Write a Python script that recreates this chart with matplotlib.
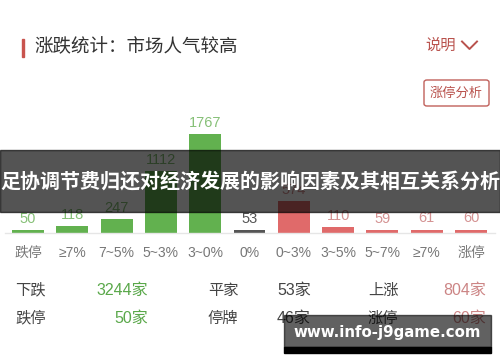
import matplotlib
matplotlib.use("Agg")
import matplotlib.pyplot as plt
from matplotlib.patches import Rectangle, FancyBboxPatch

plt.rcParams['font.family'] = ['Noto Sans CJK SC', 'DejaVu Sans']
NUM_FONT = ['Liberation Sans', 'Noto Sans CJK SC', 'DejaVu Sans']

categories = ["跌停", "≥7%", "7~5%", "5~3%", "3~0%", "0%", "0~3%", "3~5%", "5~7%", "≥7%", "涨停"]
values = [50, 118, 247, 1112, 1767, 53, 574, 110, 59, 61, 60]
kinds = ["down"] * 5 + ["flat"] + ["up"] * 5

title = "涨跌统计：市场人气较高"
banner = "足协调节费归还对经济发展的影响因素及其相互关系分析"
watermark = "www.info-j9game.com"
table_rows = [
    [("下跌", "3244家"), ("平家", "53家"), ("上涨", "804家")],
    [("跌停", "50家"), ("停牌", "46家"), ("涨停", "60家")],
]

bar_col = {"down": "#62b14f", "flat": "#555555", "up": "#e06a6a"}
lab_col = {"down": "#86c077", "flat": "#555555", "up": "#d49292"}
val_col = ["#5aa84a", "#444444", "#cc8585"]

W, H = 500, 362
fig = plt.figure(figsize=(W / 100, H / 100), dpi=100)
fig.patch.set_facecolor("white")

def fx(x):
    return x / W

def fy(y):
    return 1 - y / H

# axes for bars
sp = 44.3
left = 28 - sp / 2
right = 471 + sp / 2
base = 233
ax = fig.add_axes([fx(left), fy(base), (right - left) / W, 112 / H])
ax.set_xlim(-0.5, len(categories) - 0.5)
ax.set_ylim(0, 2000)
ax.axis("off")
xs = list(range(len(categories)))
ax.bar(xs, values, width=0.72, color=[bar_col[k] for k in kinds], zorder=2)
for x, v, k in zip(xs, values, kinds):
    ax.annotate(str(v), (x, v), xytext=(0, 3), textcoords="offset points",
                ha="center", va="bottom", fontsize=10.5, color=lab_col[k],
                family=NUM_FONT)

# baseline
fig.add_artist(plt.Line2D([fx(5), fx(495)], [fy(base), fy(base)], color="#e6e6e6", lw=1))

# x labels
for x, c in zip(xs, categories):
    px = 28 + x * sp
    fig.text(fx(px), fy(253), c, ha="center", va="center", fontsize=10,
             color="#777777", family=NUM_FONT)

# title
fig.add_artist(Rectangle((fx(21.5), fy(57)), 2.5 / W, 18 / H, color="#c9544e", transform=fig.transFigure))
fig.text(fx(34), fy(47), title, ha="left", va="center", fontsize=13.3,
         fontweight="medium", color="#333333")

# top-right controls
fig.text(fx(425), fy(45), "说明", ha="left", va="center", fontsize=11, color="#b9524d")
fig.add_artist(plt.Line2D([fx(462), fx(469.5), fx(477)], [fy(41.5), fy(49), fy(41.5)],
                          color="#b9524d", lw=1.4))
fig.add_artist(FancyBboxPatch((fx(424), fy(106)), 65 / W, 26 / H,
                              boxstyle="round,pad=0,rounding_size=0.006",
                              fc="white", ec="#c0605b", lw=1, transform=fig.transFigure))
fig.text(fx(456.5), fy(93), "涨停分析", ha="center", va="center", fontsize=9.5, color="#b9524d")

# table
row_y = [290, 318]
for r, row in enumerate(table_rows):
    y = fy(row_y[r])
    (l1, v1), (l2, v2), (l3, v3) = row
    fig.text(fx(15), y, l1, ha="left", va="center", fontsize=11, color="#444444")
    fig.text(fx(148), y, v1, ha="right", va="center", fontsize=11.5, color=val_col[0], family=NUM_FONT)
    fig.text(fx(208), y, l2, ha="left", va="center", fontsize=11, color="#444444")
    fig.text(fx(277), y, v2, ha="left", va="center", fontsize=11.5, color=val_col[1], family=NUM_FONT)
    fig.text(fx(368), y, l3, ha="left", va="center", fontsize=11, color="#444444")
    fig.text(fx(486), y, v3, ha="right", va="center", fontsize=11.5, color=val_col[2], family=NUM_FONT)

# banner overlay
fig.add_artist(Rectangle((0, fy(212)), 1, 62 / H, color="black", alpha=0.67,
                         transform=fig.transFigure, zorder=10))
fig.text(0.5, fy(181), banner, ha="center", va="center", fontsize=14.4,
         fontweight="bold", color="white", zorder=11)

# watermark
fig.add_artist(Rectangle((fx(284), fy(347)), 207 / W, 32 / H, color="black", alpha=0.62,
                         transform=fig.transFigure, zorder=10))
fig.add_artist(Rectangle((fx(284), fy(353)), 207 / W, 6 / H, color="black",
                         transform=fig.transFigure, zorder=10))
fig.text(fx(387.5), fy(332), watermark, ha="center", va="center", fontsize=10.8,
         fontweight="bold", family=["DejaVu Sans"], color="white", zorder=11)

fig.savefig("out.png", dpi=100, facecolor="white")
